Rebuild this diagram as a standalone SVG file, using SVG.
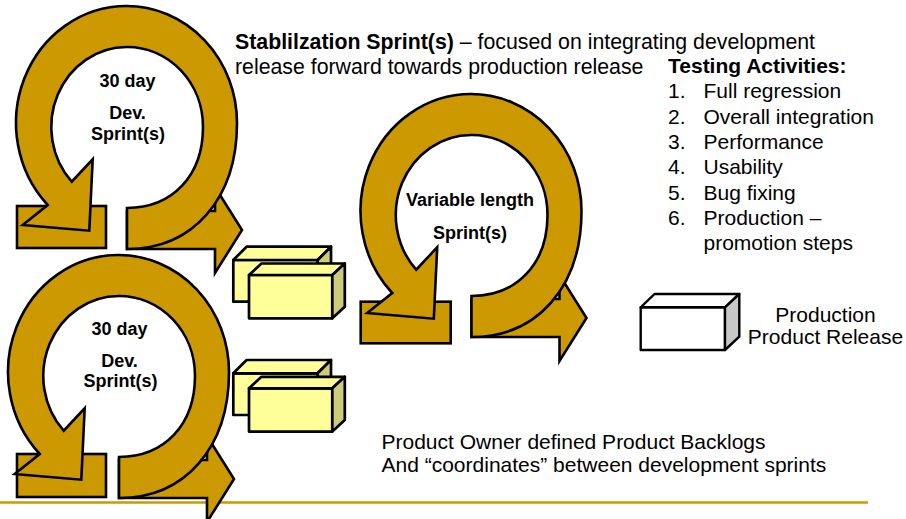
<svg xmlns="http://www.w3.org/2000/svg" width="906" height="519" viewBox="0 0 906 519">
  <style>
    .gold { fill: #CC9900; stroke: #000; stroke-width: 2.6; stroke-linejoin: miter; }
    .front { fill: #FFFF99; stroke: #000; stroke-width: 2.7; stroke-linejoin: round; }
    .side { fill: #CCCC7A; stroke: #000; stroke-width: 2.7; stroke-linejoin: round; }
    .pfront { fill: #FFFFFF; stroke: #000; stroke-width: 2.4; stroke-linejoin: round; }
    .pside { fill: #C8C8C8; stroke: #000; stroke-width: 2.4; stroke-linejoin: round; }
    text { font-family: "Liberation Sans", Arial, sans-serif; fill: #000; }
    .body { font-size: 21px; }
    .note { font-size: 21.3px; }
    .label { font-size: 18px; font-weight: bold; text-anchor: middle; }
    .rule { stroke: #CC9900; stroke-width: 2.5; fill: none; }
  </style>
  <defs>
    <!-- circular sprint arrow: ring open at the bottom, arrowhead on the left end -->
    <path id="ring" d="M 127,249 L 127,208 C 172.6,208 203,175.6 203,127 A 75.5 80 0 0 0 127.5,47 A 75.5 80 0 0 0 71.7,181.7 L 92.7,159.3 L 89.3,230.7 L 22.7,225 L 47.7,205 A 110.5 117 0 0 1 126.5,6 A 110.5 117 0 0 1 237,123 C 237,198.6 193,249 127,249 Z"/>
    <!-- straight arrow leaving the loop to the right -->
    <path id="fwd" d="M 127,211 L 215,211 L 215,187 L 242,230 L 215,273 L 215,249 L 127,249 Z"/>
    <!-- pair of stacked backlog boxes -->
    <g id="box-pair">
      <rect class="front" x="233.3" y="260" width="84.4" height="41.7"/>
      <polygon class="front" points="233.3,260 246.6,246.7 331,246.7 317.7,260"/>
      <polygon class="side" points="317.7,260 331,246.7 331,288.4 317.7,301.7"/>
      <rect class="front" x="249" y="275" width="83.3" height="43.3"/>
      <polygon class="front" points="249,275 261.5,263.5 344.8,263.5 332.3,275"/>
      <polygon class="side" points="332.3,275 344.8,263.5 344.8,306.8 332.3,318.3"/>
    </g>
  </defs>

  <line class="rule" x1="0" y1="502.5" x2="868" y2="502.5"/>

  <g id="dev-sprint-1">
    <rect class="gold" x="17" y="206" width="89" height="42"/>
    <use href="#fwd" class="gold"/>
    <use href="#ring" class="gold"/>
    <text class="label" x="127.5" y="87.3">30 day</text>
    <text class="label" x="127.5" y="119.3">Dev.</text>
    <text class="label" x="128" y="139.5">Sprint(s)</text>
  </g>

  <g id="dev-sprint-2">
    <rect class="gold" x="17" y="454" width="89" height="43"/>
    <g transform="translate(-8,249)">
      <use href="#fwd" class="gold"/>
      <use href="#ring" class="gold"/>
    </g>
    <text class="label" x="119.5" y="335">30 day</text>
    <text class="label" x="119.5" y="367.3">Dev.</text>
    <text class="label" x="120.5" y="387">Sprint(s)</text>
  </g>

  <g id="stabilization-sprint">
    <rect class="gold" x="360.7" y="301.7" width="90" height="41.6"/>
    <g transform="translate(344.5,88)">
      <use href="#fwd" class="gold"/>
      <use href="#ring" class="gold"/>
    </g>
    <text class="label" x="470" y="206">Variable length</text>
    <text class="label" x="470" y="238.5">Sprint(s)</text>
  </g>

  <g id="backlogs-1">
    <use href="#box-pair"/>
  </g>
  <g id="backlogs-2">
    <use href="#box-pair" transform="translate(0,113.3)"/>
  </g>

  <g id="production-release">
    <rect class="pfront" x="640.7" y="307.3" width="84.3" height="42.7"/>
    <polygon class="pfront" points="640.7,307.3 654.5,294 739.3,294 725,307.3"/>
    <polygon class="pside" points="725,307.3 739.3,294 739.3,336.7 725,350"/>
    <text class="body" x="825.5" y="321.7" text-anchor="middle">Production</text>
    <text class="body" x="825.5" y="344" text-anchor="middle">Product Release</text>
  </g>

  <g id="stabilization-note">
    <text class="note" x="235" y="48.5"><tspan font-weight="bold">Stablilzation Sprint(s)</tspan> – focused on integrating development</text>
    <text class="note" x="235" y="73.5">release forward towards production release</text>
  </g>

  <g id="testing-activities">
    <text class="body" x="668" y="73" font-weight="bold">Testing Activities:</text>
    <text class="body" x="668" y="98.3">1.</text>
    <text class="body" x="703.5" y="98.3">Full regression</text>
    <text class="body" x="668" y="123.6">2.</text>
    <text class="body" x="703.5" y="123.6">Overall integration</text>
    <text class="body" x="668" y="148.9">3.</text>
    <text class="body" x="703.5" y="148.9">Performance</text>
    <text class="body" x="668" y="174.2">4.</text>
    <text class="body" x="703.5" y="174.2">Usability</text>
    <text class="body" x="668" y="199.5">5.</text>
    <text class="body" x="703.5" y="199.5">Bug fixing</text>
    <text class="body" x="668" y="224.8">6.</text>
    <text class="body" x="703.5" y="224.8">Production –</text>
    <text class="body" x="703.5" y="250.1">promotion steps</text>
  </g>

  <g id="product-owner-note">
    <text class="body" x="381.5" y="449">Product Owner defined Product Backlogs</text>
    <text class="body" x="381.5" y="472">And “coordinates” between development sprints</text>
  </g>
</svg>
